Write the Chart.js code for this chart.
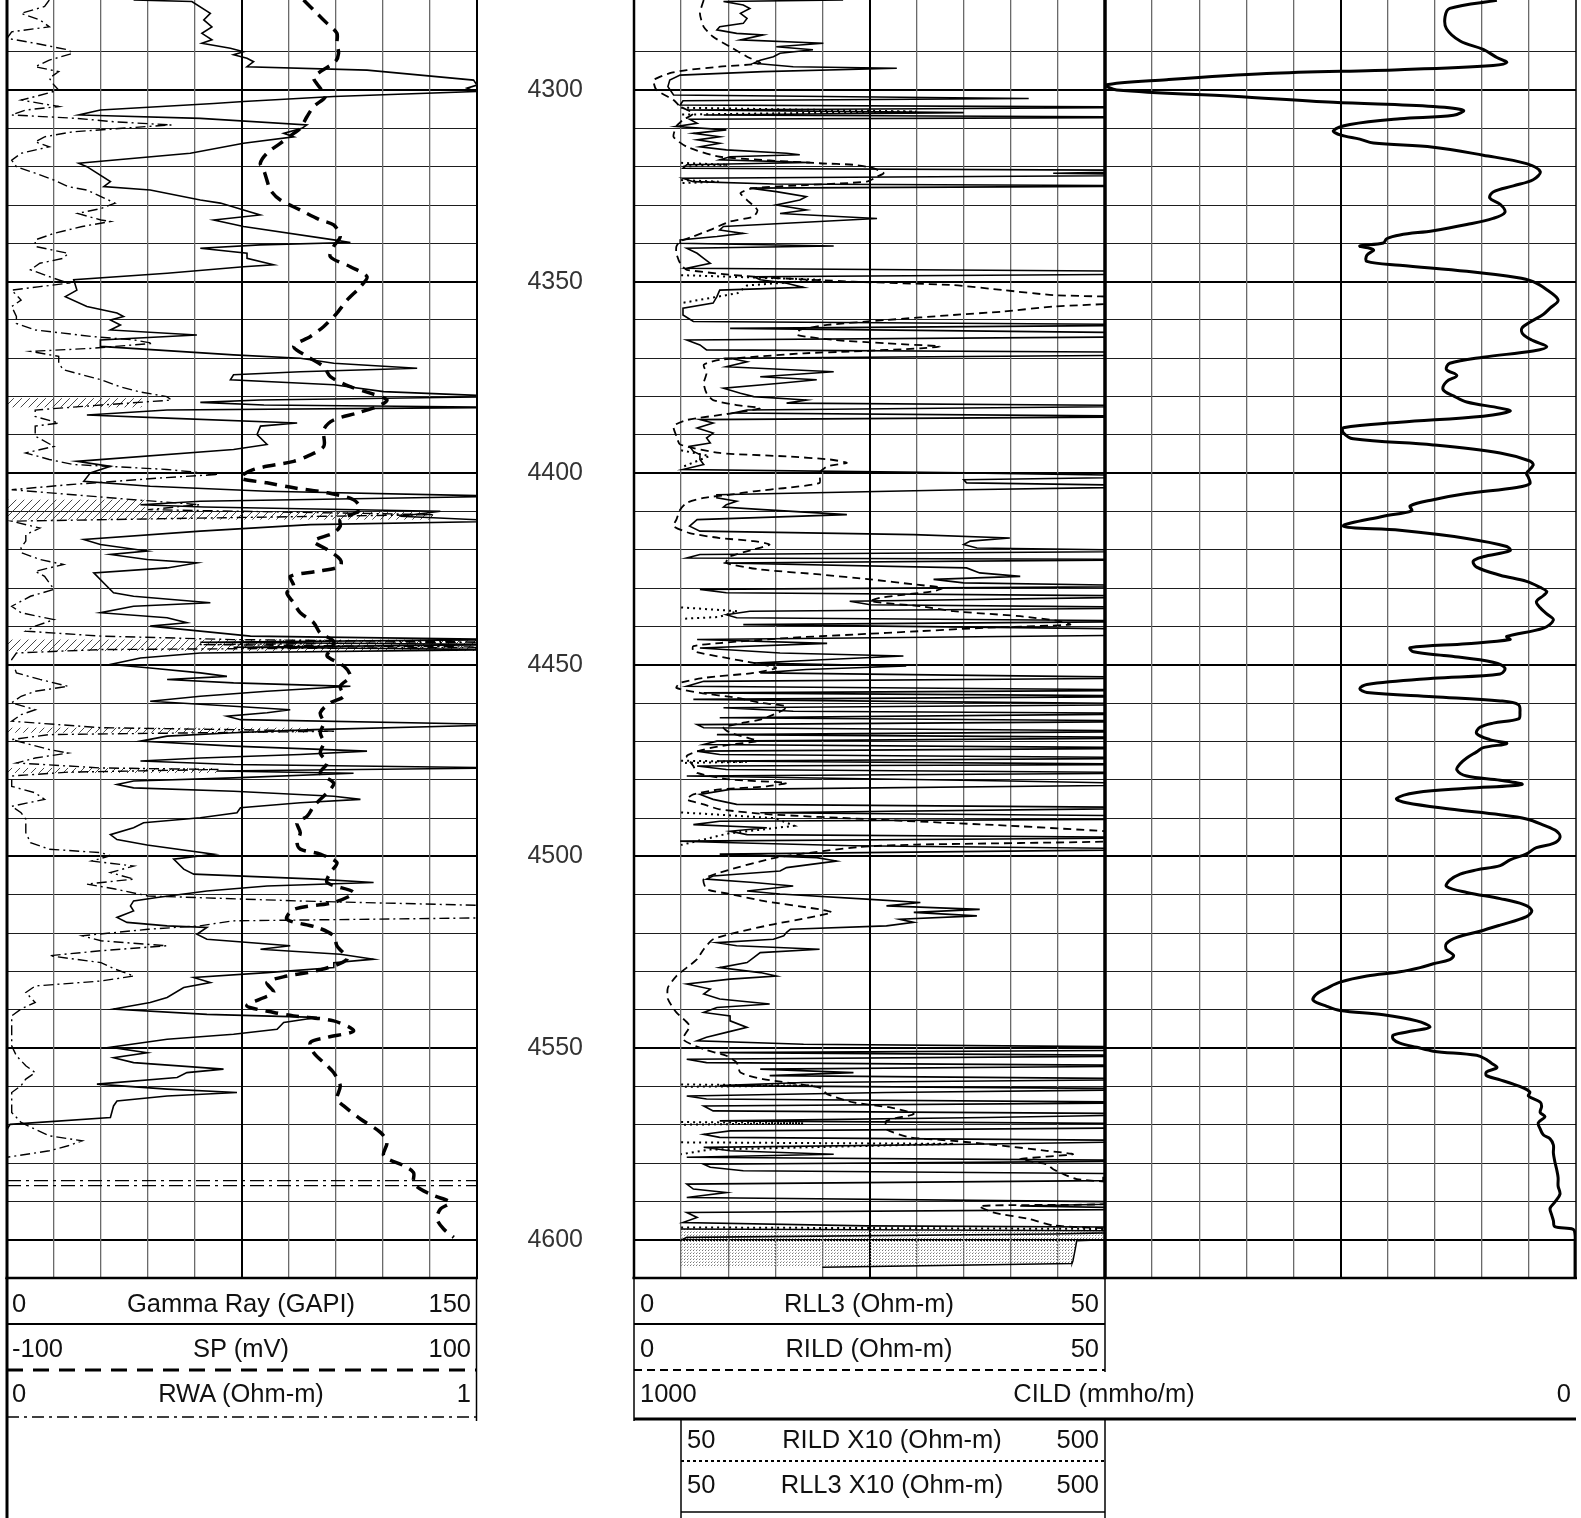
<!DOCTYPE html>
<html><head><meta charset="utf-8">
<script src="https://cdn.jsdelivr.net/npm/chart.js@4.4.0/dist/chart.umd.min.js"></script>
<style>
html,body{margin:0;padding:0;background:#fff;width:1581px;height:1518px;overflow:hidden;position:relative;}
canvas{position:absolute;}
#legend{position:absolute;left:0;top:0;pointer-events:none;}
#legend text{font-family:'Liberation Sans',Arial,sans-serif;font-size:25.5px;fill:#111;dominant-baseline:central;}
</style></head><body>
<canvas id="t1" width="482" height="1286" style="left:0px;top:-4px"></canvas>
<canvas id="t2" width="630" height="1286" style="left:480px;top:-4px"></canvas>
<canvas id="t3" width="481" height="1286" style="left:1100px;top:-4px"></canvas>
<svg id="legend" width="1581" height="1518" xmlns="http://www.w3.org/2000/svg">
<g stroke="#000" fill="none">
<line x1="7" y1="1278" x2="7" y2="1518" stroke-width="3"/>
<line x1="476.5" y1="1278" x2="476.5" y2="1421" stroke-width="1.5"/>
<line x1="7" y1="1324" x2="477" y2="1324" stroke-width="2"/>
<line x1="7" y1="1370" x2="477" y2="1370" stroke-width="3" stroke-dasharray="16 10"/>
<line x1="7" y1="1417" x2="477" y2="1417" stroke-width="1.5" stroke-dasharray="12 5 3 5"/>
<line x1="634" y1="1278" x2="634" y2="1421" stroke-width="1.5"/>
<line x1="1105" y1="1278" x2="1105" y2="1372" stroke-width="1.5"/>
<line x1="634" y1="1324" x2="1105" y2="1324" stroke-width="2"/>
<line x1="634" y1="1370" x2="1105" y2="1370" stroke-width="2" stroke-dasharray="8 5"/>
<line x1="634" y1="1419" x2="1576" y2="1419" stroke-width="3"/>
<line x1="681" y1="1419" x2="681" y2="1518" stroke-width="1.5"/>
<line x1="1105" y1="1419" x2="1105" y2="1518" stroke-width="1.5"/>
<line x1="681" y1="1461" x2="1105" y2="1461" stroke-width="2" stroke-dasharray="3 3"/>
<line x1="681" y1="1512" x2="1105" y2="1512" stroke-width="1.5"/>
</g>
<text x="12" y="1303">0</text>
<text x="241" y="1303" text-anchor="middle">Gamma Ray (GAPI)</text>
<text x="471" y="1303" text-anchor="end">150</text>
<text x="12" y="1348">-100</text>
<text x="241" y="1348" text-anchor="middle">SP (mV)</text>
<text x="471" y="1348" text-anchor="end">100</text>
<text x="12" y="1393">0</text>
<text x="241" y="1393" text-anchor="middle">RWA (Ohm-m)</text>
<text x="471" y="1393" text-anchor="end">1</text>
<text x="640" y="1303">0</text>
<text x="869" y="1303" text-anchor="middle">RLL3 (Ohm-m)</text>
<text x="1099" y="1303" text-anchor="end">50</text>
<text x="640" y="1348">0</text>
<text x="869" y="1348" text-anchor="middle">RILD (Ohm-m)</text>
<text x="1099" y="1348" text-anchor="end">50</text>
<text x="640" y="1393">1000</text>
<text x="1104" y="1393" text-anchor="middle">CILD (mmho/m)</text>
<text x="1571" y="1393" text-anchor="end">0</text>
<text x="687" y="1439">50</text>
<text x="892" y="1439" text-anchor="middle">RILD X10 (Ohm-m)</text>
<text x="1099" y="1439" text-anchor="end">500</text>
<text x="687" y="1484">50</text>
<text x="892" y="1484" text-anchor="middle">RLL3 X10 (Ohm-m)</text>
<text x="1099" y="1484" text-anchor="end">500</text>
</svg>
<script>
// ---------------- DATA (depth in ft, values in curve units) ----------------
const depthMin = 4276.5, depthMax = 4610;

const grDepth = [4276.5,4276.9,4280.0,4281.7,4283.5,4285.2,4286.9,4287.8,4289.1,4290.0,
4290.8,4291.7,4292.6,4293.9,4294.8,4297.4,4298.7,4299.5,4300.4,4301.7,
4303.0,4303.5,4305.2,4306.5,4307.4,4309.1,4310.0,4311.3,4312.2,4313.9,
4316.5,4319.1,4320.0,4323.9,4325.2,4326.1,4328.7,4329.5,4331.3,4332.6,
4333.9,4335.6,4339.1,4339.8,4340.4,4341.3,4342.6,4343.9,4345.6,4346.1,
4347.8,4349.5,4352.2,4353.9,4356.5,4358.2,4359.1,4360.0,4361.3,4362.6,
4363.9,4365.2,4366.9,4369.1,4370.0,4371.3,4372.6,4373.5,4374.3,4375.6,
4376.9,4378.7,4380.0,4380.9,4381.5,4382.2,4382.8,4383.5,4384.8,4385.6,
4386.9,4387.7,4389.9,4392.5,4393.8,4396.9,4398.2,4399.9,4402.1,4403.4,
4404.7,4406.0,4407.3,4408.2,4408.8,4409.9,4411.2,4412.5,4413.4,4415.1,
4417.3,4418.6,4420.3,4421.2,4422.5,4423.4,4424.7,4426.0,4429.5,4431.2,
4432.1,4433.8,4434.7,4436.4,4437.7,4439.0,4439.9,4441.2,4442.5,4443.4,
4444.1,4444.7,4445.4,4446.0,4446.9,4448.2,4449.9,4450.8,4452.1,4453.0,
4453.8,4454.7,4455.6,4456.9,4458.2,4459.5,4460.8,4461.7,4462.5,4463.4,
4464.3,4465.6,4466.9,4467.7,4468.6,4469.9,4471.2,4472.5,4473.4,4474.3,
4475.1,4476.0,4476.9,4477.7,4478.3,4479.5,4480.3,4481.2,4482.1,4483.0,
4484.3,4485.1,4486.0,4487.3,4488.6,4489.9,4491.2,4492.5,4494.3,4495.6,
4497.0,4499.4,4500.7,4503.3,4504.6,4505.9,4506.8,4507.7,4509.0,4510.7,
4511.6,4512.9,4514.2,4515.9,4517.2,4518.1,4518.5,4520.3,4521.6,4523.3,
4524.2,4525.5,4526.8,4527.7,4529.0,4530.3,4531.6,4532.9,4534.2,4536.8,
4538.1,4539.8,4541.2,4542.0,4543.3,4545.1,4546.4,4547.7,4549.8,4551.2,
4552.5,4553.8,4555.5,4556.4,4557.7,4559.4,4560.7,4561.6,4562.5,4563.8,
4565.1,4568.1,4569.9,4571.2];
const grValue = [40.4,59.0,64.9,62.8,65.4,62.2,65.4,62.2,71.3,75.5,
72.3,76.6,78.7,76.6,114.9,148.9,150,146.8,149.5,104.3,
75.5,66.0,29.8,22.9,61.7,95.7,94.1,88.3,91.5,75.5,
58.5,22.9,25.5,33.0,30.9,45.7,61.7,68.1,75.5,80.8,
66.0,75.5,104.3,109.6,80.8,61.7,76.6,76.6,85.1,75.5,
51.1,21.3,22.3,18.6,25.5,35.1,37.2,33.0,36.2,33.0,
60.6,29.8,29.8,72.3,93.6,104.3,130.9,93.6,72.3,71.3,
104.3,120.2,160,80.8,61.7,82,160,51.1,25.5,51.1,
92.6,80.9,79.8,83.0,72.3,22.3,33.0,26.6,24.5,45.7,
83.0,160,61.7,42.6,62.8,138.3,125.5,160,96.8,61.7,
24.5,29.8,44.7,33.0,44.7,60.6,51.1,27.7,31.9,34.0,
40.4,64.9,40.4,29.8,51.1,57.4,45.7,61.7,77.7,160,
61.7,160,72.3,160,61.7,42.6,33.0,45.7,61.7,70.2,
51.1,72.3,109.6,83.0,61.7,45.7,72.3,90.4,83.0,70.2,
74.5,160,97.9,72.3,51.1,42.6,72.3,114.9,93.6,61.7,
42.6,72.3,160,67.0,110.6,72.3,40.4,35.1,40.4,72.3,
104.3,112.8,93.6,74.5,73.4,61.7,43.6,40.4,33.0,35.1,
44.7,66.0,53.2,56.4,59.6,98.9,117.0,83.0,63.8,47.9,
40.4,39.4,40.4,35.1,38.3,51.1,63.8,60.6,63.8,90.4,
80.9,106.4,117.0,104.3,104.3,83.0,59.6,64.9,56.4,51.1,
45.7,34.0,63.8,98.9,88.3,86.2,72.3,51.1,33.0,44.7,
34.0,40.4,69.1,57.4,54.3,28.7,51.1,73.4,51.1,35.1,
34.0,33.0,1.0,0];

const spDepth = [4276.5,4280.0,4282.6,4285.2,4287.8,4290.4,4292.6,4295.2,4296.9,4299.5,
4301.7,4304.3,4306.9,4310.0,4311.3,4313.9,4316.5,4319.1,4320.8,4323.5,
4326.1,4328.7,4331.3,4333.9,4335.2,4338.2,4340.8,4343.5,4346.1,4348.7,
4351.3,4354.8,4358.2,4361.7,4364.3,4366.9,4369.5,4372.2,4374.8,4377.4,
4379.1,4380.9,4382.6,4384.3,4386.1,4388.6,4393.0,4395.6,4396.9,4399.0,
4401.2,4402.5,4403.8,4405.1,4406.9,4409.5,4412.1,4413.8,4415.6,4417.7,
4419.9,4422.5,4424.3,4425.6,4426.9,4429.5,4431.2,4433.8,4436.4,4439.0,
4441.7,4443.8,4446.0,4447.7,4450.3,4453.0,4455.6,4458.2,4459.9,4462.5,
4465.1,4467.7,4470.3,4473.0,4475.6,4478.2,4480.8,4482.5,4485.1,4486.9,
4489.5,4491.2,4493.8,4496.4,4498.1,4499.4,4501.6,4504.2,4506.8,4509.4,
4512.0,4513.8,4516.4,4518.5,4520.7,4523.3,4526.8,4529.8,4531.2,4532.9,
4535.5,4537.2,4539.0,4540.7,4541.6,4542.9,4545.5,4547.2,4548.5,4551.2,
4554.6,4556.4,4559.8,4563.3,4565.1,4568.5,4572.0,4574.6,4578.1,4580.7,
4582.5,4585.1,4586.8,4588.5,4590.3,4592.0,4594.6,4597.2,4599.4];
const spValue = [26.2,31.9,36.2,40.4,40.4,41.1,39.7,33.3,30.5,33.3,
35.5,30.5,27.7,24.8,22.0,16.3,10.6,7.8,9.2,10.6,
12.1,16.3,24.8,33.3,39.0,41.8,39.0,37.6,46.1,53.2,
50.4,44.7,40.4,34.8,29.1,22.0,27.7,34.8,37.6,46.1,
54.6,61.7,57.4,48.9,39.0,34.8,34.8,27.7,22.0,5.0,
-0.7,10.6,22.0,36.2,47.5,50.4,41.8,41.8,39.0,30.5,
36.2,41.8,41.8,31.9,20.6,22.0,19.1,22.0,24.8,30.5,
33.3,39.0,37.6,36.2,43.3,46.1,41.8,43.3,37.6,33.3,
34.8,33.3,34.8,33.3,36.2,33.3,39.0,37.6,33.3,30.5,
27.7,23.4,24.8,23.4,24.8,33.3,40.4,37.6,36.2,47.5,
39.0,22.0,19.1,31.9,39.0,40.4,44.7,31.9,19.1,10.6,
13.5,7.8,2.1,13.5,22.0,39.0,47.5,36.2,29.1,30.5,
36.2,39.0,41.8,40.4,43.3,50.4,58.9,61.7,60.3,68.8,
73.0,73.0,75.9,81.6,88.7,84.4,83.0,85.8,90.1];

const rwaDepth = [4276.5,4278.2,4280.0,4281.7,4283.5,4284.8,4286.5,4287.8,4289.5,4290.4,
4292.2,4293.9,4295.2,4296.9,4298.7,4300.0,4301.7,4302.6,4304.3,4305.2,
4306.5,4307.4,4308.3,4309.1,4309.5,4310.9,4312.2,4313.5,4314.8,4316.5,
4318.3,4320.0,4321.7,4323.5,4325.2,4326.1,4327.8,4329.5,4330.9,4332.2,
4333.9,4334.3,4335.6,4337.4,4339.1,4340.8,4342.6,4343.9,4345.2,4346.9,
4348.7,4350.4,4351.3,4352.2,4354.8,4356.5,4359.1,4360.9,4362.6,4364.3,
4365.2,4366.1,4367.4,4368.2,4369.5,4371.3,4373.0,4375.6,4377.4,4378.7,
4380.0,4380.9,4382.2,4383.5,4385.2,4386.9,4387.7,4390.3,4393.0,4394.7,
4396.4,4397.7,4399.0,4400.3,4401.2,4403.0,4404.3,4406.9,4408.2,4409.5,
4410.8,4411.7,4412.5,4414.3,4416.0,4417.7,4419.4,4420.7,4422.5,4423.8,
4425.6,4426.9,4428.6,4430.3,4432.1,4434.7,4436.4,4438.2,4439.9,4441.2,
4442.5,4443.4,4444.1,4444.7,4445.4,4446.0,4446.9,4448.6,4452.1,4453.8,
4455.6,4456.9,4458.2,4459.9,4461.7,4463.0,4464.7,4466.4,4467.3,4468.2,
4469.5,4472.1,4473.0,4474.3,4475.6,4476.9,4477.3,4478.0,4479.0,4481.7,
4483.4,4485.1,4486.9,4488.6,4490.3,4493.8,4496.4,4498.1,4499.0,4499.8,
4501.2,4502.5,4504.2,4505.9,4507.2,4508.5,4510.3,4511.6,4512.9,4514.2,
4515.9,4516.8,4518.1,4519.0,4520.7,4522.0,4523.3,4524.6,4525.9,4527.7,
4529.4,4531.2,4532.5,4533.8,4535.5,4538.1,4539.8,4541.6,4544.2,4546.8,
4549.4,4552.0,4554.6,4556.4,4558.1,4559.8,4561.6,4564.2,4566.8,4569.4,
4571.2,4572.9,4574.2,4575.5,4576.8,4578.5];
const rwaValue = [0.09,0.08,0.03,0.07,0.09,0.01,0.00,0.06,0.13,0.14,
0.09,0.06,0.11,0.09,0.10,0.11,0.06,0.03,0.11,0.04,
0.01,0.15,0.23,0.35,0.30,0.14,0.08,0.06,0.09,0.03,
0.01,0.02,0.06,0.10,0.13,0.17,0.20,0.23,0.20,0.15,
0.20,0.22,0.16,0.10,0.06,0.06,0.13,0.12,0.07,0.05,
0.09,0.13,0.07,0.01,0.03,0.01,0.02,0.02,0.06,0.18,
0.27,0.31,0.18,0.05,0.11,0.11,0.12,0.20,0.24,0.28,
0.34,0.35,0.20,0.06,0.06,0.11,0.06,0.06,0.10,0.04,
0.09,0.14,0.34,0.45,0.33,0.13,0.01,0.27,0.41,0.30,
0.91,0.41,0.01,0.07,0.04,0.04,0.03,0.03,0.07,0.12,
0.06,0.08,0.09,0.10,0.05,0.01,0.03,0.10,0.06,0.04,
0.20,0.48,1.05,0.41,1.05,0.20,0.02,0.01,0.02,0.07,
0.13,0.06,0.03,0.01,0.06,0.03,0.01,0.20,0.70,0.09,
0.01,0.09,0.13,0.06,0.02,0.20,0.45,0.13,0.01,0.01,
0.06,0.08,0.01,0.03,0.04,0.04,0.05,0.09,0.20,0.22,
0.18,0.27,0.22,0.27,0.17,0.23,0.30,0.62,1.05,1.10,
1.10,0.48,0.41,0.30,0.16,0.20,0.34,0.20,0.09,0.20,
0.23,0.27,0.20,0.06,0.04,0.06,0.03,0.01,0.01,0.01,
0.01,0.02,0.04,0.06,0.04,0.03,0.01,0.01,0.01,0.03,
0.06,0.09,0.16,0.13,0.09,0.00];

const markerDepth = [4584.6, 4585.9];

const hatchTop = [4380.4, 4406.9, 4409.9, 4443.4, 4466.4, 4476.9];
const hatchBottom = [4382.8, 4409.9, 4412.1, 4446.4, 4467.7, 4478.2];
const hatchRight = [43, 44, 136, 150, 96, 67];

const rll3Depth = [4276.5,4276.9,4277.8,4278.7,4280.0,4281.3,4282.6,4283.5,4284.3,4285.2,
4285.6,4286.9,4287.8,4288.7,4289.5,4290.4,4291.3,4292.2,4293.0,4293.9,
4294.3,4295.2,4296.1,4297.4,4299.1,4301.3,4302.2,4302.8,4303.9,4304.5,
4305.2,4305.9,4306.5,4307.1,4307.6,4308.7,4309.5,4310.4,4311.3,4312.2,
4313.0,4313.9,4314.8,4315.6,4316.5,4316.9,4317.4,4318.2,4318.9,4319.5,
4320.4,4321.0,4321.7,4322.2,4323.0,4323.9,4324.5,4325.0,4325.6,4326.5,
4327.8,4328.7,4330.0,4331.3,4332.2,4333.5,4334.3,4335.6,4336.5,4337.4,
4338.2,4339.1,4340.0,4340.7,4341.3,4342.6,4343.9,4345.2,4346.5,4347.4,
4348.0,4348.7,4349.5,4350.4,4351.5,4352.2,4353.9,4355.6,4356.9,4358.7,
4360.4,4361.3,4362.2,4363.5,4364.3,4365.2,4366.5,4367.8,4368.5,4369.1,
4370.0,4370.9,4372.2,4373.5,4374.8,4375.6,4376.5,4377.8,4379.1,4380.0,
4380.9,4381.7,4382.4,4383.5,4384.3,4385.2,4386.0,4386.9,4388.2,4389.5,
4390.8,4392.1,4393.0,4394.3,4395.1,4396.4,4397.7,4399.0,4399.9,4400.8,
4401.7,4402.5,4403.4,4404.3,4405.6,4406.4,4407.3,4408.2,4408.8,4409.5,
4410.8,4412.1,4413.8,4415.1,4416.0,4416.9,4417.7,4418.6,4419.5,4420.3,
4421.2,4422.1,4422.5,4423.4,4424.7,4426.0,4426.9,4427.7,4428.6,4429.5,
4430.3,4431.2,4432.1,4433.4,4434.3,4435.1,4436.0,4436.9,4437.7,4438.6,
4439.5,4440.8,4442.1,4443.4,4444.4,4445.6,4446.9,4447.7,4448.6,4449.5,
4450.3,4451.2,4452.1,4453.4,4454.3,4455.6,4456.6,4457.3,4458.2,4459.0,
4460.3,4461.2,4462.1,4462.7,4463.8,4464.7,4465.6,4466.4,4467.3,4468.2,
4469.0,4469.9,4470.8,4471.7,4472.5,4473.4,4474.3,4475.1,4476.0,4476.4,
4477.3,4478.2,4479.0,4480.3,4481.2,4482.5,4483.8,4485.1,4486.4,4487.3,
4488.6,4489.5,4490.2,4490.8,4491.7,4492.5,4493.4,4494.3,4495.1,4496.0,
4496.4,4497.2,4498.1,4499.4,4500.3,4501.2,4502.0,4502.9,4503.8,4505.1,
4505.9,4506.8,4507.7,4509.0,4509.8,4511.2,4512.0,4512.9,4513.8,4514.6,
4515.5,4516.4,4517.2,4518.1,4519.0,4519.8,4520.7,4521.6,4522.5,4523.3,
4524.2,4525.1,4526.4,4527.7,4529.0,4530.3,4531.2,4532.0,4533.3,4534.6,
4535.9,4537.2,4538.5,4539.4,4540.7,4541.6,4542.9,4544.6,4545.9,4547.2,
4548.1,4549.0,4549.8,4550.5,4551.2,4552.0,4552.9,4553.8,4554.6,4555.5,
4556.4,4557.2,4558.1,4559.0,4559.8,4560.7,4561.6,4562.5,4563.3,4564.2,
4565.1,4566.4,4567.2,4568.1,4569.0,4569.8,4570.7,4571.6,4572.5,4573.3,
4574.2,4575.1,4575.9,4576.8,4577.7,4578.5,4579.4,4580.3,4581.1,4582.0,
4582.9,4583.8,4584.6,4585.5,4586.8,4587.7,4589.0,4590.3,4591.2,4592.0,
4592.9,4594.2,4595.5,4596.4,4596.8,4597.7,4598.5,4599.4,4600.3];
const rll3Value = [22.2,9.5,11.6,12.3,11.3,12.0,11.6,9.1,8.8,10.9,
13.7,11.3,20.1,15.1,19.0,15.5,14.8,13.4,12.7,16.9,
27.9,13.7,4.9,3.8,3.6,4.2,41.9,5.2,4.9,60,
5.6,35.0,7.4,60,5.9,6.7,4.5,9.8,6.3,9.1,
6.7,9.1,7.0,9.8,16.2,17.6,10.2,9.1,18.7,5.6,
5.2,60,44.5,60,5.2,6.3,14.8,60,12.3,15.1,
18.3,17.6,15.1,18.3,15.5,25.8,19.7,9.5,9.1,11.6,
8.8,4.9,4.9,21.2,5.6,6.7,7.4,8.1,5.6,60,
60,12.7,13.4,16.2,18.0,9.1,8.8,8.4,5.2,5.2,
6.3,60,10.2,60,60,5.6,7.0,7.7,60,60,
10.2,12.0,9.8,21.2,13.4,19.4,15.5,9.5,11.3,12.7,
18.3,16.2,60,12.0,10.5,60,7.0,8.4,6.7,8.4,
7.7,8.1,5.9,6.3,7.0,7.0,7.4,5.2,35.3,60,
35.0,35.3,60,35.0,8.8,8.8,10.9,9.8,9.5,13.7,
22.6,6.7,5.9,7.0,29.7,39.9,35.7,35.0,36.4,60,
7.0,5.6,60,9.5,35.3,36.7,41.0,31.8,35.0,60,
7.0,9.8,60,22.9,25.1,60,12.3,9.8,10.9,60,
11.6,60,60,6.7,20.5,7.0,15.5,28.6,20.5,12.7,
28.9,18.3,13.4,60,7.4,5.6,60,7.4,60,6.3,
60,9.5,16.9,60,9.1,60,6.7,7.4,60,8.8,
60,8.8,7.4,60,6.7,9.1,60,8.8,60,6.7,
9.8,60,5.6,39.9,60,10.2,7.0,8.4,10.9,60,
13.4,60,60,9.1,6.3,14.1,10.2,12.0,60,4.9,
10.5,23.3,60,9.1,19.4,21.5,19.0,16.2,15.5,8.4,
7.7,12.7,16.9,12.0,15.5,25.1,30.4,26.8,36.7,29.7,
36.4,28.2,29.7,26.8,16.6,16.2,15.9,14.8,8.8,10.9,
19.7,13.4,12.7,12.0,9.1,13.4,15.1,10.2,5.6,8.1,
7.4,9.1,14.4,8.8,7.4,10.2,10.2,12.0,9.8,7.7,
6.7,18.0,60,60,9.1,60,5.6,7.7,60,13.4,
23.3,14.4,60,18.0,9.1,60,26.8,5.6,7.7,60,
7.4,8.4,60,37.4,9.1,60,60,10.2,7.4,9.1,
60,35.7,7.4,10.2,21.2,5.6,60,7.4,8.1,11.6,
60,49.8,49.8,5.6,6.3,9.8,5.6,60,41.0,60,
5.6,6.7,5.2,24.7,60,60,44.5,5.6,4.9];

const rildDepth = [4276.5,4280.0,4283.5,4286.1,4288.7,4291.3,4293.0,4293.9,4294.8,4295.6,
4297.4,4300.0,4302.6,4304.3,4306.1,4307.8,4309.5,4312.2,4314.8,4317.4,
4319.1,4319.5,4320.4,4321.7,4322.6,4323.9,4324.8,4325.6,4326.9,4328.7,
4331.3,4333.0,4334.3,4336.5,4338.2,4339.5,4340.8,4342.6,4345.2,4346.9,
4348.7,4350.0,4350.9,4352.2,4353.5,4354.3,4355.6,4356.5,4357.8,4358.7,
4360.0,4361.3,4362.6,4363.9,4365.2,4366.1,4366.9,4367.4,4368.2,4368.7,
4370.4,4371.7,4373.9,4376.5,4379.1,4380.9,4382.2,4383.0,4384.3,4386.1,
4387.7,4390.3,4392.5,4394.7,4395.6,4396.4,4397.3,4398.2,4399.9,4402.5,
4403.8,4404.7,4405.6,4406.4,4407.7,4409.5,4412.1,4413.8,4415.6,4416.9,
4417.7,4418.6,4419.9,4421.7,4423.4,4425.1,4426.4,4427.7,4429.0,4429.9,
4430.8,4431.7,4432.5,4433.4,4434.7,4436.0,4437.3,4438.6,4439.5,4440.3,
4441.2,4442.1,4443.0,4444.3,4445.1,4446.4,4448.2,4449.5,4450.8,4452.1,
4453.4,4454.7,4456.0,4457.3,4458.6,4459.9,4460.8,4461.7,4463.0,4464.3,
4465.1,4466.4,4467.7,4469.0,4469.9,4470.8,4472.1,4473.8,4476.4,4478.2,
4479.9,4480.8,4481.7,4482.5,4483.8,4485.1,4486.4,4487.7,4489.0,4490.3,
4492.0,4493.4,4494.7,4496.0,4496.9,4497.5,
4500.3,4504.2,4505.9,4508.5,4509.8,4511.6,4513.8,4514.6,4515.9,4517.7,
4519.8,4521.6,4524.2,4526.8,4529.0,4531.2,4534.2,4537.2,4540.7,4544.2,
4547.7,4550.3,4552.0,4553.8,4556.4,4558.1,4560.3,4562.0,4564.2,4565.5,
4567.2,4569.0,4571.2,4573.3,4574.2,4575.5,4576.8,4577.7,4579.0,4580.3,
4581.6,4582.9,4584.2,4585.9,4590.3,4591.2,4592.9,4594.6,4596.3,4597.2];
const rildValue = [7.4,7.0,7.4,8.4,10.2,12.0,13.4,9.1,5.6,3.8,
2.1,2.4,4.2,4.9,6.3,5.2,4.5,4.2,5.6,9.1,
19.7,23.3,25.4,26.5,25.8,24.7,18.3,12.7,11.3,12.0,
13.1,12.7,10.2,8.1,6.3,4.9,4.5,4.5,4.9,5.6,
12.7,23.3,33.9,39.2,44.5,55,51.6,44.5,39.2,33.9,
26.8,20.5,17.6,17.3,21.2,26.8,32.5,30.4,23.3,18.0,
9.1,7.4,7.7,7.4,7.7,8.4,10.9,13.4,10.5,5.6,
4.2,4.5,4.9,9.1,16.2,20.8,22.6,20.5,19.7,19.7,
16.2,12.7,10.2,7.4,5.6,4.9,4.5,4.2,5.9,9.1,
12.7,14.4,12.7,10.2,9.8,13.4,19.7,25.1,29.7,32.8,
31.8,28.6,26.1,25.1,30.4,33.9,41.0,45.2,46.3,37.4,
30.4,23.3,16.2,9.1,6.3,6.3,9.8,12.7,15.1,12.7,
7.4,4.9,4.5,7.0,10.9,13.4,16.2,15.9,14.8,13.4,
11.6,9.5,10.2,12.0,13.1,10.2,7.4,5.6,6.3,6.7,
10.2,16.2,14.1,9.1,6.3,5.6,7.4,9.1,14.4,25.1,
40.0,50.0,58.0,52.0,30.0,24.0,
15.1,9.1,7.4,7.7,10.2,13.7,19.7,21.0,18.7,14.8,
10.9,8.4,7.4,6.7,5.6,4.5,3.6,3.6,4.5,5.9,
5.2,7.4,9.8,10.9,11.3,13.7,19.7,20.5,23.3,27.2,
29.7,26.8,26.8,29.3,33.9,39.2,43.8,46.6,41.0,43.8,
44.5,45.6,47.0,53,53,36.7,38.1,42.0,44.5,52];

const rildX10Depth = [4304.6,4305.6,4306.4,4306.4,4319.0,4319.5,4320.0,4320.0,4323.5,4323.9,4324.3,4324.3,
4348.3,4349.5,4351.0,4353.0,4355.6,4355.6,4394.0,4395.5,4397.5,4398.5,4398.5,
4435.0,4436.0,4437.5,4438.0,4438.0,4475.0,4475.3,4475.6,4475.6,
4488.5,4490.0,4492.0,4494.0,4497.0,4497.0,4559.5,4559.8,4560.1,4560.1,
4569.3,4569.6,4570.0,4570.0,4574.6,4575.0,4576.5,4577.7,4577.7,4596.8,4597.2,4598.0];
const rildX10Value = [50,300,50,null,50,100,50,null,50,90,50,null,
50,200,120,110,50,null,50,80,60,50,null,
50,110,90,50,null,50,120,50,null,
50,150,170,100,50,null,50,190,50,null,
50,180,50,null,50,340,80,50,null,50,500,500];

const rll3X10Depth = [4597.2,4597.7,4600.0,4600.3,4603.0,4605.5,4606.2,4607.2];
const rll3X10Value = [50,500,500,470,468,466,465,200];

const cildDepth = [4276.6,4278.7,4280.9,4284.0,4287.2,4289.4,4291.5,4292.8,4293.6,4294.7,
4295.7,4297.3,4298.7,4300.0,4301.6,4303.2,4304.3,4305.3,4306.6,4307.5,
4309.0,4310.6,4311.7,4312.8,4313.8,4314.9,4317.0,4319.2,4321.3,4323.4,
4325.0,4326.6,4328.2,4329.8,4331.9,4333.5,4335.1,4336.7,4337.8,4338.8,
4339.9,4340.7,4341.7,4343.1,4344.7,4345.7,4347.3,4348.9,4350.0,4352.1,
4354.8,4356.9,4358.5,4360.6,4362.2,4363.8,4365.4,4367.0,4368.1,4369.7,
4371.3,4372.9,4374.5,4376.1,4378.2,4379.8,4381.4,4383.0,4383.8,4385.1,
4386.7,4388.1,4389.4,4391.0,4392.6,4394.7,4396.8,4397.9,4400.0,4401.1,
4402.7,4403.7,4405.3,4406.9,4408.5,4409.8,4411.2,4413.8,4414.9,4417.0,
4419.1,4420.2,4421.8,4422.9,4424.5,4426.6,4428.2,4429.8,4430.9,4431.9,
4433.5,4435.1,4436.7,4438.3,4440.4,4442.6,
4443.4,4444.5,4445.5,4446.6,4447.7,4449.3,4450.8,4452.4,4453.5,4455.1,
4456.2,4457.2,4458.3,4459.4,4460.4,4462.5,4464.1,4465.2,4466.3,4467.9,
4469.5,4470.5,4471.6,4472.7,4474.3,4475.8,4477.4,4479.0,4480.1,4481.2,
4482.2,4483.3,4484.9,4486.0,4487.6,4489.1,4490.2,4491.8,4493.4,4495.0,
4496.6,4497.7,4499.3,4500.9,4502.4,4503.5,4504.6,4506.2,4507.8,4509.4,
4511.0,4512.5,4514.1,4515.7,4517.9,4519.5,4521.1,4522.7,4524.3,4525.8,
4526.9,4528.0,4529.0,4530.1,4531.2,4532.8,4534.4,4535.9,4537.5,4539.1,
4540.2,4541.3,4542.9,4544.5,4545.5,4546.6,4547.7,4548.7,4549.8,4550.8,
4551.9,4553.0,4554.0,4555.1,4556.2,4557.2,4558.3,4559.4,4560.4,4561.5,
4562.5,4564.1,4565.2,4566.8,4567.9,4569.5,4571.1,4572.7,4573.7,4575.3,
4577.4,4579.6,4581.7,4583.8,4586.0,4588.1,4590.2,4591.8,4593.4,4595.0,
4596.6,4597.3,4598.7,4600.8,4605.1,4610.0];
const cildValue = [168,268,278,275,246,197,168,147,176,374,
657,869,1000,975,728,515,303,239,260,374,
480,515,501,459,430,303,197,105,76,91,
133,176,183,161,151,176,232,303,374,402,
409,459,430,444,444,374,232,126,91,62,
38,55,69,98,115,112,91,62,91,197,
268,275,253,275,282,260,232,161,140,197,
374,494,494,473,303,161,98,91,105,101,
98,126,232,303,352,349,409,494,374,232,
147,140,197,218,211,161,105,76,62,69,
84,76,62,48,69,147,
140,232,352,345,268,176,151,161,303,444,
459,444,303,161,122,119,122,176,204,211,
183,147,197,211,232,246,253,232,161,115,
232,338,381,360,268,161,105,69,41,34,
48,84,105,140,161,211,246,268,275,232,
161,112,94,105,161,204,253,275,275,260,
268,303,331,374,444,501,529,551,558,529,
501,409,338,310,345,388,388,374,338,303,
211,190,179,168,190,190,161,133,112,98,
101,76,73,76,66,80,76,69,55,48,
48,45,41,38,38,34,45,55,52,48,
45,6,2,2,2,2];

// ---------------- helpers ----------------
const FONT = "'Liberation Sans', Arial, sans-serif";
function series(d, v) {
  const n = Math.min(d.length, v.length), out = [];
  for (let i = 0; i < n; i++) out.push({x: v[i], y: d[i]});
  return out;
}
function curve(label, d, v, axis, extra) {
  return Object.assign({
    label, data: series(d, v), xAxisID: axis, yAxisID: 'y',
    showLine: true, pointRadius: 0, pointHoverRadius: 0,
    borderColor: '#000', backgroundColor: '#000', borderWidth: 1.6,
    tension: 0, clip: 0, fill: false, spanGaps: false
  }, extra || {});
}
const isMult = (v, m) => Math.abs(v / m - Math.round(v / m)) < 1e-6;
function depthScale(showLabels) {
  return {
    type: 'linear', position: 'left', reverse: true, min: depthMin, max: depthMax,
    border: {display: false},
    grid: {
      drawTicks: false,
      color: c => !isMult(c.tick.value, 10) ? 'rgba(0,0,0,0)' : (isMult(c.tick.value, 50) ? '#000' : '#1e1e1e'),
      lineWidth: c => isMult(c.tick.value, 50) ? 2 : 1
    },
    ticks: showLabels ? {
      stepSize: 10, autoSkip: false, padding: 51, color: '#333',
      font: {family: FONT, size: 25},
      callback: v => (isMult(v, 50) && v >= 4300 && v <= 4600) ? String(Math.round(v)) : ''
    } : {stepSize: 10, autoSkip: false, display: false},
    afterFit: s => { s.width = showLabels ? 154 : 0; s.paddingTop = 0; s.paddingBottom = 0; }
  };
}
function gridScale(min, max, step, mid, reverse) {
  return {
    type: 'linear', position: 'bottom', min, max, reverse: !!reverse,
    border: {display: false},
    ticks: {stepSize: step, autoSkip: false, display: false},
    grid: {
      drawTicks: false,
      color: c => (Math.abs(c.tick.value - mid) < 1e-6) ? '#000' :
        ((Math.abs(c.tick.value - min) < 1e-6 || Math.abs(c.tick.value - max) < 1e-6) ? 'rgba(0,0,0,0)' : '#6a6a6a'),
      lineWidth: c => (Math.abs(c.tick.value - mid) < 1e-6) ? 2 : 1.3
    },
    afterFit: s => { s.height = 0; s.paddingLeft = 0; s.paddingRight = 0; }
  };
}
const hidden = (min, max) => ({type: 'linear', display: false, min, max});

const framePlugin = {
  id: 'frame',
  afterDraw(chart, args, o) {
    const {ctx, chartArea: a} = chart;
    ctx.save(); ctx.strokeStyle = '#000';
    const ln = (x1, y1, x2, y2, w) => { if (!w) return; ctx.lineWidth = w; ctx.beginPath(); ctx.moveTo(x1, y1); ctx.lineTo(x2, y2); ctx.stroke(); };
    ln(a.left, 0, a.left, a.bottom + 1, o.left);
    ln(a.right, 0, a.right, a.bottom + 1, o.right);
    ln(a.left - 1.5, a.bottom, a.right + 1, a.bottom, o.bottom);
    ctx.restore();
  }
};

function hatchPattern(ctx) {
  const c = document.createElement('canvas'); c.width = 8; c.height = 8;
  const g = c.getContext('2d'); g.strokeStyle = '#333'; g.lineWidth = 0.9;
  g.beginPath(); g.moveTo(0, 8); g.lineTo(8, 0); g.moveTo(-1, 1); g.lineTo(1, -1); g.moveTo(7, 9); g.lineTo(9, 7); g.stroke();
  return ctx.createPattern(c, 'repeat');
}
function stipplePattern(ctx) {
  const c = document.createElement('canvas'); c.width = 3; c.height = 3;
  const g = c.getContext('2d'); g.fillStyle = '#777'; g.fillRect(0, 0, 1, 1); g.fillStyle = '#bbb'; g.fillRect(1, 2, 1, 1);
  return ctx.createPattern(c, 'repeat');
}

const hatchPlugin = {
  id: 'hatchBands',
  beforeDatasetsDraw(chart) {
    const {ctx, chartArea: a, scales} = chart;
    const ys = scales.y, xs = scales.xGR;
    ctx.save();
    ctx.beginPath(); ctx.rect(a.left, a.top, a.right - a.left, a.bottom - a.top); ctx.clip();
    ctx.fillStyle = hatchPattern(ctx);
    for (let i = 0; i < hatchTop.length; i++) {
      const y1 = ys.getPixelForValue(hatchTop[i]), y2 = ys.getPixelForValue(hatchBottom[i]);
      const x2 = xs.getPixelForValue(hatchRight[i]);
      ctx.fillRect(a.left, y1, x2 - a.left, y2 - y1);
    }
    ctx.restore();
  }
};

const stipplePlugin = {
  id: 'stipple',
  beforeDatasetsDraw(chart) {
    const {ctx, chartArea: a, scales} = chart;
    const ys = scales.y, xs = scales.xR10;
    ctx.save();
    ctx.beginPath(); ctx.rect(a.left, a.top, a.right - a.left, a.bottom - a.top); ctx.clip();
    ctx.beginPath();
    ctx.moveTo(xs.getPixelForValue(50), ys.getPixelForValue(rll3X10Depth[0]));
    for (let i = 0; i < rll3X10Depth.length; i++) ctx.lineTo(xs.getPixelForValue(rll3X10Value[i]), ys.getPixelForValue(rll3X10Depth[i]));
    ctx.lineTo(xs.getPixelForValue(50), ys.getPixelForValue(rll3X10Depth[rll3X10Depth.length - 1]));
    ctx.closePath();
    ctx.fillStyle = stipplePattern(ctx);
    ctx.fill();
    ctx.restore();
  }
};

function markerData() {
  const out = [];
  markerDepth.forEach((d, i) => { if (i) out.push({x: null, y: d}); out.push({x: 0, y: d}); out.push({x: 1, y: d}); });
  return out;
}

const baseOpts = (padL, padR, frame, scales) => ({
  responsive: false, animation: false, events: [], devicePixelRatio: 1,
  layout: {padding: {left: padL, right: padR, top: 4, bottom: 4}},
  plugins: {legend: {display: false}, tooltip: {enabled: false}, frame},
  scales
});

// ---------------- Track 1: GR / SP / RWA ----------------
new Chart(document.getElementById('t1'), {
  type: 'scatter',
  data: {datasets: [
    curve('RWA (Ohm-m)', rwaDepth, rwaValue, 'xRWA', {borderWidth: 1.4, borderDash: [10, 4, 2, 4]}),
    Object.assign(curve('Marker', [], [], 'xRWA', {borderWidth: 1.4, borderDash: [14, 5, 3, 5]}), {data: markerData()}),
    curve('Gamma Ray (GAPI)', grDepth, grValue, 'xGR', {borderWidth: 1.6}),
    curve('SP (mV)', spDepth, spValue, 'xSP', {borderWidth: 3.5, borderDash: [13, 8], tension: 0.3})
  ]},
  options: baseOpts(7, 5, {left: 3, right: 2, bottom: 2.5}, {
    y: depthScale(false),
    xGR: gridScale(0, 150, 15, 75),
    xSP: hidden(-100, 100),
    xRWA: hidden(0, 1)
  }),
  plugins: [hatchPlugin, framePlugin]
});

// ---------------- Track 2: resistivity ----------------
new Chart(document.getElementById('t2'), {
  type: 'scatter',
  data: {datasets: [
    curve('RILD X10 (Ohm-m)', rildX10Depth, rildX10Value, 'xR10', {borderWidth: 2, borderDash: [2, 4]}),
    curve('RLL3 X10 (Ohm-m)', rll3X10Depth, rll3X10Value, 'xR10', {borderWidth: 1.5}),
    curve('RILD (Ohm-m)', rildDepth, rildValue, 'xR', {borderWidth: 1.8, borderDash: [8, 5], tension: 0.2}),
    curve('RLL3 (Ohm-m)', rll3Depth, rll3Value, 'xR', {borderWidth: 1.6})
  ]},
  options: baseOpts(0, 5, {left: 2.5, right: 3, bottom: 2.5}, {
    y: depthScale(true),
    xR: gridScale(0, 50, 5, 25),
    xR10: hidden(0, 500)
  }),
  plugins: [stipplePlugin, framePlugin]
});

// ---------------- Track 3: CILD ----------------
new Chart(document.getElementById('t3'), {
  type: 'scatter',
  data: {datasets: [
    curve('CILD (mmho/m)', cildDepth, cildValue, 'xC', {borderWidth: 3, tension: 0.35})
  ]},
  options: baseOpts(5, 5, {left: 3, right: 1.5, bottom: 2.5}, {
    y: depthScale(false),
    xC: gridScale(0, 1000, 100, 500, true)
  }),
  plugins: [framePlugin]
});
</script>
</body></html>
